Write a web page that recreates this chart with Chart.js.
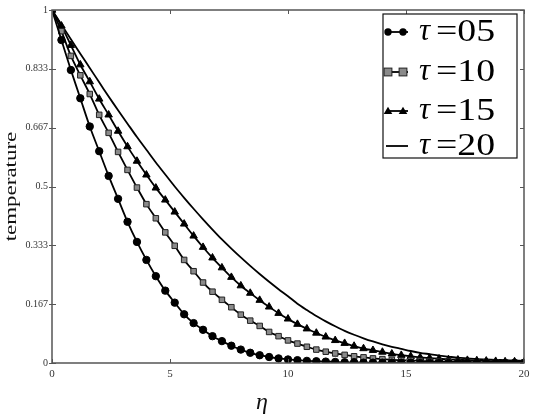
<!DOCTYPE html>
<html>
<head>
<meta charset="utf-8">
<script src="https://cdn.jsdelivr.net/npm/chart.js@4/dist/chart.umd.min.js"></script>
<style>
html,body{margin:0;padding:0;background:#fff;}
#wrap{width:536px;height:420px;position:relative;}
</style>
</head>
<body>
<div id="wrap"><canvas id="c" width="536" height="420"></canvas></div>
<script>
// eta grid (x values)
const eta = [0,0.4,0.8,1.2,1.6,2.0,2.4,2.8,3.2,3.6,4.0,4.4,4.8,5.2,5.6,6.0,6.4,6.8,7.2,7.6,8.0,8.4,8.8,9.2,9.6,10.0,10.4,10.8,11.2,11.6,12.0,12.4,12.8,13.2,13.6,14.0,14.4,14.8,15.2,15.6,16.0,16.4,16.8,17.2,17.6,18.0,18.4,18.8,19.2,19.6,20.0];

const tau05 = [1,0.915,0.83,0.75,0.67,0.60,0.53,0.465,0.40,0.343,0.292,0.246,0.205,0.171,0.138,0.113,0.094,0.076,0.062,0.049,0.038,0.029,0.022,0.017,0.013,0.010,0.008,0.006,0.005,0.004,0.003,0.002,0.002,0.001,0.001,0.001,0.001,0.001,0.001,0,0,0,0,0,0,0,0,0,0,0,0];

const tau10 = [1,0.94,0.87,0.815,0.762,0.703,0.652,0.598,0.547,0.497,0.450,0.410,0.370,0.332,0.292,0.260,0.228,0.202,0.179,0.158,0.137,0.120,0.105,0.088,0.076,0.064,0.055,0.046,0.038,0.032,0.027,0.023,0.019,0.016,0.013,0.011,0.009,0.008,0.007,0.006,0.005,0.004,0.004,0.003,0.003,0.002,0.002,0.002,0.001,0.001,0.001];

const tau15 = [1,0.955,0.90,0.845,0.797,0.748,0.703,0.657,0.613,0.572,0.533,0.496,0.462,0.428,0.394,0.360,0.328,0.298,0.270,0.243,0.219,0.198,0.178,0.159,0.141,0.125,0.110,0.097,0.085,0.074,0.064,0.056,0.048,0.041,0.036,0.031,0.026,0.022,0.019,0.016,0.014,0.012,0.010,0.009,0.008,0.007,0.006,0.005,0.004,0.004,0.003];

const tau20 = [1,0.959,0.917,0.876,0.836,0.795,0.755,0.716,0.678,0.640,0.604,0.568,0.534,0.500,0.468,0.437,0.407,0.378,0.350,0.324,0.299,0.275,0.252,0.230,0.209,0.189,0.168,0.150,0.133,0.118,0.104,0.091,0.080,0.070,0.061,0.053,0.046,0.040,0.034,0.029,0.025,0.021,0.018,0.015,0.013,0.011,0.010,0.009,0.008,0.007,0.006];

const seriesLabels = ['05','10','15','20'];
const xTicks = [0,5,10,15,20];
const yTicks = [0,1/6,2/6,0.5,4/6,5/6,1];
const yTickLabels = ['0','0.167','0.333','0.5','0.667','0.833','1'];
const yTitle = 'temperature';
const xTitle = 'η';

function pts(arr){ return eta.map((x,i)=>({x:x,y:arr[i]})); }

const styles = [
  {pointStyle:'circle', radius:3.7, bg:'#000', border:'#000'},
  {pointStyle:'rect', radius:3.9, bg:'#8a8a8a', border:'#222'},
  {pointStyle:'triangle', radius:4.3, bg:'#000', border:'#000'},
  {pointStyle:false, radius:0, bg:'#000', border:'#000'}
];
const allSeries = [tau05,tau10,tau15,tau20];

const datasets = allSeries.map((s,i)=>({
  label:'τ =' + seriesLabels[i],
  data: pts(s),
  borderColor:'#000',
  borderWidth:1.8,
  backgroundColor: styles[i].bg,
  pointBackgroundColor: styles[i].bg,
  pointBorderColor: styles[i].border,
  pointBorderWidth: 1,
  pointStyle: styles[i].pointStyle,
  pointRadius: styles[i].radius,
  tension: 0.3,
  fill:false
}));

const frameColor = '#555';

const framePlugin = {
  id:'frame',
  afterDatasetsDraw(chart){
    const {ctx, chartArea:a, scales} = chart;
    const xs = scales.x, ys = scales.y;
    ctx.save();
    ctx.strokeStyle = frameColor;
    ctx.lineWidth = 1.5;
    ctx.strokeRect(a.left, a.top, a.right-a.left, a.bottom-a.top);
    ctx.lineWidth = 1;
    const L = 4;
    xTicks.forEach(v=>{
      const px = Math.round(xs.getPixelForValue(v))+0.5;
      ctx.beginPath();
      ctx.moveTo(px,a.bottom); ctx.lineTo(px,a.bottom-L);
      ctx.moveTo(px,a.top); ctx.lineTo(px,a.top+L);
      ctx.stroke();
    });
    yTicks.forEach(v=>{
      const py = Math.round(ys.getPixelForValue(v))+0.5;
      ctx.beginPath();
      ctx.moveTo(a.left-3,py); ctx.lineTo(a.left+L,py);
      ctx.moveTo(a.right,py); ctx.lineTo(a.right-L,py);
      ctx.stroke();
    });
    // x axis title
    ctx.fillStyle = '#111';
    ctx.font = 'italic 24px "Liberation Serif"';
    ctx.textAlign = 'center';
    ctx.textBaseline = 'middle';
    ctx.fillText(xTitle, xs.getPixelForValue(8.9), 403);
    // y axis title (stretched along its length)
    ctx.save();
    ctx.translate(12, (a.top + a.bottom)/2);
    ctx.rotate(-Math.PI/2);
    ctx.scale(1.35, 1);
    ctx.font = '17px "Liberation Serif"';
    ctx.fillStyle = '#111';
    ctx.fillText(yTitle, 0, 0);
    ctx.restore();
    ctx.restore();
  }
};

function drawMarker(ctx, style, x, y){
  ctx.fillStyle = style.bg; ctx.strokeStyle = style.border; ctx.lineWidth = 1;
  if(style.pointStyle==='circle'){
    ctx.beginPath(); ctx.arc(x,y,style.radius,0,Math.PI*2); ctx.fill();
  } else if(style.pointStyle==='rect'){
    const r = style.radius;
    ctx.fillRect(x-r,y-r,2*r,2*r); ctx.strokeRect(x-r,y-r,2*r,2*r);
  } else if(style.pointStyle==='triangle'){
    const r = style.radius;
    ctx.beginPath(); ctx.moveTo(x,y-r); ctx.lineTo(x+r,y+r*0.7); ctx.lineTo(x-r,y+r*0.7); ctx.closePath(); ctx.fill();
  }
}

const legendPlugin = {
  id:'boxLegend',
  afterDraw(chart){
    const ctx = chart.ctx;
    const bx = 383, by = 14, bw = 134, bh = 144;
    ctx.save();
    ctx.fillStyle = '#fff';
    ctx.fillRect(bx,by,bw,bh);
    ctx.strokeStyle = '#111'; ctx.lineWidth = 1.2;
    ctx.strokeRect(bx,by,bw,bh);
    const rows = [32,72,111,146];
    chart.data.datasets.forEach((ds,i)=>{
      const y = rows[i];
      ctx.strokeStyle = '#000'; ctx.lineWidth = 1.8;
      ctx.beginPath(); ctx.moveTo(386,y); ctx.lineTo(408,y); ctx.stroke();
      if(styles[i].pointStyle){
        drawMarker(ctx, styles[i], 388, y);
        drawMarker(ctx, styles[i], 403, y);
      }
      ctx.fillStyle = '#000';
      ctx.textBaseline = 'middle';
      ctx.textAlign = 'left';
      ctx.font = 'italic 31px "Liberation Serif"';
      ctx.fillText('τ', 419, y);
      ctx.save();
      ctx.translate(436, y+1);
      ctx.scale(1.22, 1);
      ctx.font = '31px "Liberation Serif"';
      ctx.fillText('=' + seriesLabels[i], 0, 0);
      ctx.restore();
    });
    ctx.restore();
  }
};

new Chart(document.getElementById('c'), {
  type:'line',
  data:{datasets},
  options:{
    responsive:false,
    animation:false,
    layout:{padding:0},
    plugins:{legend:{display:false}, tooltip:{enabled:false}},
    scales:{
      x:{
        type:'linear', min:0, max:20, position:'bottom',
        afterBuildTicks(s){ s.ticks = xTicks.map(v=>({value:v})); },
        afterFit(s){ s.height = 57; },
        grid:{display:false, drawTicks:false},
        border:{display:false},
        ticks:{color:'#333', padding:5, maxRotation:0, font:{family:'"Liberation Serif"', size:11}},
        title:{display:false}
      },
      y:{
        type:'linear', min:0, max:1, position:'left',
        afterBuildTicks(s){ s.ticks = yTicks.map(v=>({value:v})); },
        afterFit(s){ s.width = 52; },
        grid:{display:false, drawTicks:false},
        border:{display:false},
        ticks:{color:'#333', padding:4, font:{family:'"Liberation Serif"', size:10},
          callback(v, idx){ return yTickLabels[idx]; }},
        title:{display:false}
      },
      x2:{
        type:'linear', min:0, max:20, position:'top', display:true,
        afterFit(s){ s.height = 6; },
        grid:{display:false, drawTicks:false}, border:{display:false},
        ticks:{display:false}
      },
      y2:{
        type:'linear', min:0, max:1, position:'right', display:true,
        afterFit(s){ s.width = 12; },
        grid:{display:false, drawTicks:false}, border:{display:false},
        ticks:{display:false}
      }
    }
  },
  plugins:[framePlugin, legendPlugin]
});
</script>
</body>
</html>
